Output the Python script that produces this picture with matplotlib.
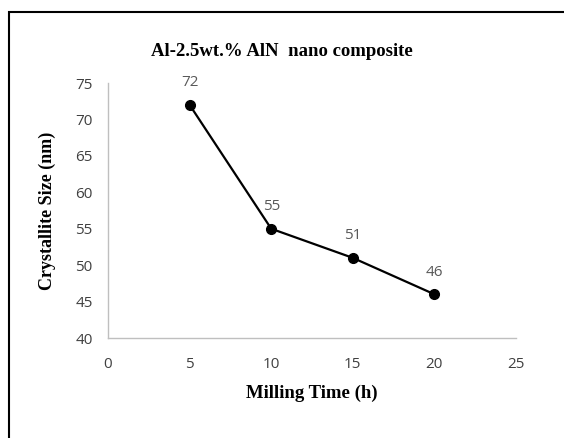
import matplotlib.pyplot as plt
from matplotlib.patches import Rectangle

milling_time = [5, 10, 15, 20]
crystallite_size = [72, 55, 51, 46]
x_ticks = [0, 5, 10, 15, 20, 25]
y_ticks = [40, 45, 50, 55, 60, 65, 70, 75]

fig = plt.figure(figsize=(5.64, 4.38), dpi=100)
ax = fig.add_axes([0.1915, 0.2283, 0.7234, 0.5822])

# outer frame (image is cropped on right/bottom)
fig.patches.append(Rectangle((9 / 564, -0.1), 1.2, 1 - 12 / 438 + 0.1,
                             transform=fig.transFigure, fill=False,
                             edgecolor='black', linewidth=1.5))

ax.plot(milling_time, crystallite_size, color='black', linewidth=1.6,
        marker='o', markersize=7, zorder=3)
for x, y in zip(milling_time, crystallite_size):
    ax.annotate(str(y), (x, y), xytext=(0, 16), textcoords='offset points',
                ha='center', va='center', fontsize=11, color='#595959',
                family='Open Sans')

ax.set_xlim(0, 25)
ax.set_ylim(40, 75)
ax.set_xticks(x_ticks)
ax.set_yticks(y_ticks)
ax.tick_params(length=0, labelsize=11, labelcolor='#404040')
ax.tick_params(axis='x', pad=14)
ax.tick_params(axis='y', pad=11)
for lab in ax.get_xticklabels() + ax.get_yticklabels():
    lab.set_family('Open Sans')

for s in ['top', 'right']:
    ax.spines[s].set_visible(False)
for s in ['left', 'bottom']:
    ax.spines[s].set_color('#BFBFBF')
    ax.spines[s].set_linewidth(1.0)

ax.set_xlabel('Milling Time (h)', fontsize=13.5, fontweight='bold',
              family='Liberation Serif', labelpad=9)
ax.set_ylabel('Crystallite Size (nm)', fontsize=13, fontweight='bold',
              family='Liberation Serif', labelpad=14)
fig.text(0.5, 1 - 52 / 438, 'Al-2.5wt.% AlN  nano composite', ha='center',
         va='center', fontsize=13.5, fontweight='bold', family='Liberation Serif')

fig.savefig('out.png', dpi=100)
